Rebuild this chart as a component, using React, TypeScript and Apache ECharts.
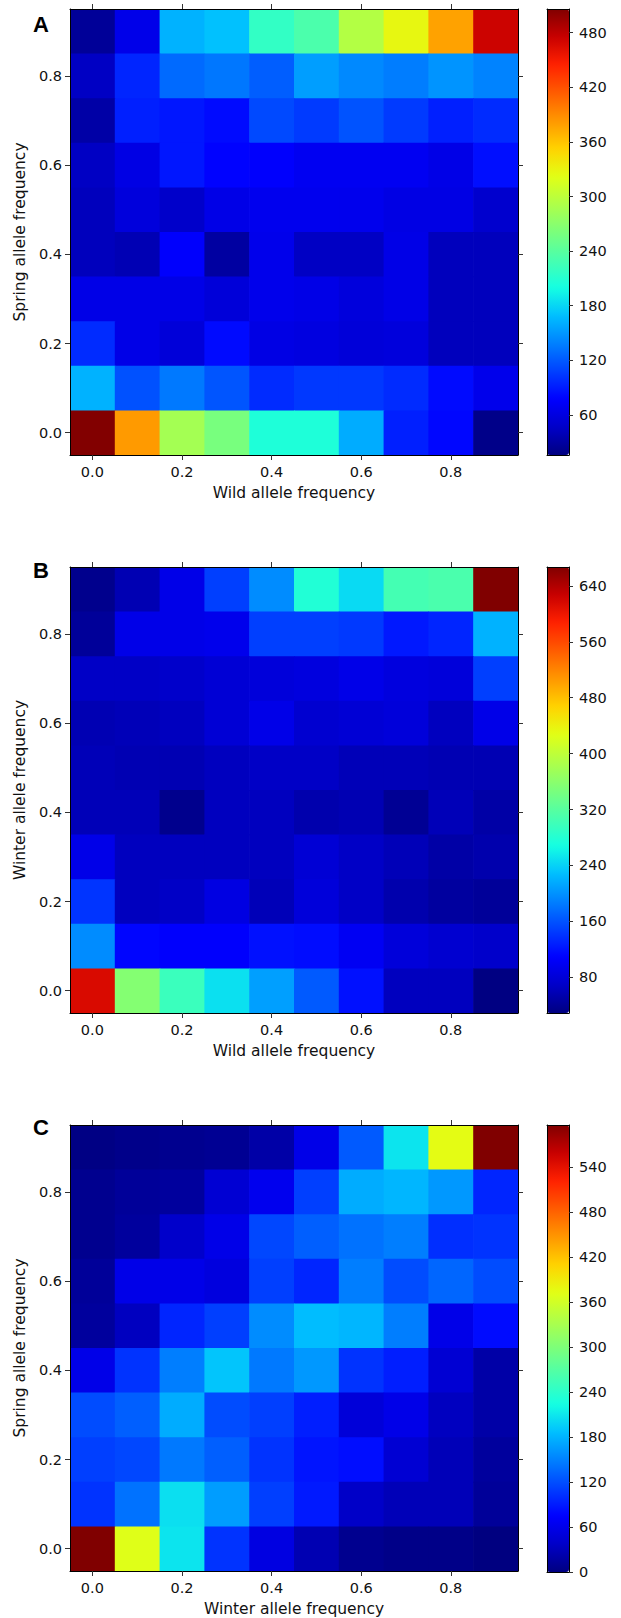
import React, { useEffect, useRef } from "react";
import * as echarts from "echarts";

// Bin centres for both axes
const FREQ = [0.0, 0.1, 0.2, 0.3, 0.4, 0.5, 0.6, 0.7, 0.8, 0.9];
// Axis tick labels
const AXIS_TICKS = [0.0, 0.2, 0.4, 0.6, 0.8];
const AXIS_RANGE = [-0.05, 0.95];
const HALF_BIN = 0.05;

// Panel A: rows listed from top (0.9) to bottom (0.0), columns 0.0 .. 0.9
const A_ROWS = [
  [26, 65, 163, 170, 217, 232, 294, 328, 378, 473],
  [45, 95, 128, 134, 122, 153, 143, 137, 148, 140],
  [32, 92, 88, 82, 112, 105, 117, 105, 92, 98],
  [45, 62, 88, 78, 76, 70, 70, 70, 64, 84],
  [42, 58, 48, 64, 68, 68, 67, 62, 62, 50],
  [42, 38, 76, 30, 66, 45, 45, 64, 42, 42],
  [64, 64, 64, 56, 66, 64, 58, 64, 42, 42],
  [98, 64, 56, 82, 62, 60, 56, 58, 42, 42],
  [163, 116, 135, 118, 98, 104, 104, 98, 82, 66],
  [505, 382, 285, 259, 205, 205, 160, 92, 80, 20],
];
// Panel B
const B_ROWS = [
  [36, 57, 92, 148, 196, 278, 245, 305, 310, 667],
  [43, 92, 92, 95, 148, 148, 144, 124, 132, 220],
  [68, 68, 71, 78, 82, 85, 92, 85, 82, 148],
  [57, 60, 64, 78, 92, 75, 78, 82, 64, 92],
  [60, 57, 57, 64, 68, 68, 60, 60, 57, 57],
  [60, 60, 36, 64, 64, 54, 57, 40, 60, 50],
  [92, 64, 64, 64, 64, 78, 68, 60, 50, 54],
  [141, 64, 68, 88, 60, 82, 68, 54, 46, 43],
  [196, 112, 107, 107, 119, 116, 100, 82, 75, 71],
  [615, 355, 297, 249, 208, 165, 119, 64, 64, 30],
];
// Panel C
const C_ROWS = [
  [2, 5, 8, 10, 20, 59, 127, 208, 375, 596],
  [8, 13, 15, 45, 63, 111, 175, 181, 163, 96],
  [8, 15, 39, 59, 116, 130, 141, 148, 101, 104],
  [13, 59, 59, 52, 111, 96, 148, 119, 134, 119],
  [15, 33, 96, 111, 156, 185, 181, 148, 59, 81],
  [59, 104, 148, 190, 145, 163, 104, 92, 45, 20],
  [119, 130, 175, 119, 111, 92, 49, 59, 33, 20],
  [111, 116, 145, 130, 104, 86, 82, 45, 29, 15],
  [104, 141, 205, 166, 111, 89, 37, 29, 29, 13],
  [596, 370, 208, 104, 54, 26, 8, 4, 4, 0],
];

// Colour-bar ranges and tick values
const A_RANGE = [16, 506];
const B_RANGE = [29, 667];
const C_RANGE = [0, 596];
const A_TICKS = [60, 120, 180, 240, 300, 360, 420, 480];
const B_TICKS = [80, 160, 240, 320, 400, 480, 560, 640];
const C_TICKS = [0, 60, 120, 180, 240, 300, 360, 420, 480, 540];

const LETTERS = ["A", "B", "C"];
const X_NAMES = ["Wild allele frequency", "Wild allele frequency", "Winter allele frequency"];
const Y_NAMES = ["Spring allele frequency", "Winter allele frequency", "Spring allele frequency"];

// matplotlib "jet" sampled at 17 equal steps
const JET = [
  "#000080", "#0000c8", "#0000ff", "#0040ff", "#0080ff", "#00bfff", "#15ffe2", "#48ffaf",
  "#7bff7b", "#afff48", "#e2ff15", "#ffd200", "#ff9700", "#ff5c00", "#ff2100", "#c80000", "#800000",
];

function toCells(rows: number[][]) {
  const out: number[][] = [];
  rows.forEach((row, r) => {
    const yi = rows.length - 1 - r;
    row.forEach((v, c) => out.push([FREQ[c], FREQ[yi], v]));
  });
  return out;
}

const FONT = "DejaVu Sans";
const TXT = "#111";
const TICK_COLOR = "#333";

export default function App() {
  const ref = useRef<HTMLDivElement>(null);
  useEffect(() => {
    if (!ref.current) return;
    const chart = echarts.init(ref.current, undefined, { renderer: "svg" });

    const panels = [
      { rows: A_ROWS, range: A_RANGE, ticks: A_TICKS, top: 9, h: 446, letterTop: 13 },
      { rows: B_ROWS, range: B_RANGE, ticks: B_TICKS, top: 567, h: 446, letterTop: 559 },
      { rows: C_ROWS, range: C_RANGE, ticks: C_TICKS, top: 1125, h: 447, letterTop: 1116 },
    ];
    const PL = 70, PW = 448, CL = 547, CW = 22;

    const grid: any[] = [];
    const xAxis: any[] = [];
    const yAxis: any[] = [];
    const series: any[] = [];
    const visualMap: any[] = [];
    const graphic: any[] = [];
    const line = { show: true, onZero: false, lineStyle: { color: "#000", width: 1 } };
    const fmt = (v: number) => v.toFixed(1);
    const freqAxis = (gridIndex: number, position: string, labels: boolean) => ({
      gridIndex, type: "value", position, z: 10,
      min: AXIS_RANGE[0], max: AXIS_RANGE[1],
      axisLine: line,
      axisTick: { show: true, customValues: AXIS_TICKS, length: 5, lineStyle: { color: TICK_COLOR } },
      axisLabel: labels
        ? { show: true, customValues: AXIS_TICKS, formatter: fmt, fontFamily: FONT, fontSize: 14.5, color: TXT }
        : { show: false },
      splitLine: { show: false },
    });
    const frameAxis = (gridIndex: number, position: string, min: number, max: number) => ({
      gridIndex, type: "value", min, max, position, z: 10,
      axisLine: line, axisTick: { show: false }, axisLabel: { show: false }, splitLine: { show: false },
    });

    panels.forEach((p, i) => {
      const g = grid.length;
      grid.push({ left: PL, top: p.top, width: PW, height: p.h });
      grid.push({ left: CL, top: p.top, width: CW, height: p.h });

      const xi = xAxis.length;
      const xb: any = freqAxis(g, "bottom", true);
      xb.axisLabel.margin = 9;
      xb.name = X_NAMES[i];
      xb.nameLocation = "middle";
      xb.nameGap = 30;
      xb.nameTextStyle = { fontFamily: FONT, fontSize: 15.5, color: TXT };
      xAxis.push(xb);
      xAxis.push(freqAxis(g, "top", false));
      xAxis.push(frameAxis(g + 1, "bottom", 0, 1));
      xAxis.push(frameAxis(g + 1, "top", 0, 1));

      const yi = yAxis.length;
      const yl: any = freqAxis(g, "left", true);
      yl.axisLabel.margin = 8;
      yl.name = Y_NAMES[i];
      yl.nameLocation = "middle";
      yl.nameGap = 38;
      yl.nameTextStyle = { fontFamily: FONT, fontSize: 15.5, color: TXT };
      yAxis.push(yl);
      yAxis.push(freqAxis(g, "right", false));
      yAxis.push(frameAxis(g + 1, "left", p.range[0], p.range[1]));
      yAxis.push({
        gridIndex: g + 1, type: "value", min: p.range[0], max: p.range[1], position: "right", z: 10,
        axisLine: line,
        axisTick: { show: true, customValues: p.ticks, length: 4, lineStyle: { color: TICK_COLOR } },
        axisLabel: { show: true, customValues: p.ticks, margin: 10, fontFamily: FONT, fontSize: 14.5, color: TXT },
        splitLine: { show: false },
      });

      const si = series.length;
      series.push({
        type: "custom", xAxisIndex: xi, yAxisIndex: yi, data: toCells(p.rows), clip: true,
        encode: { x: 0, y: 1 },
        renderItem: (_params: any, api: any) => {
          const x = api.value(0);
          const y = api.value(1);
          const p0 = api.coord([x - HALF_BIN, y + HALF_BIN]);
          const p1 = api.coord([x + HALF_BIN, y - HALF_BIN]);
          return {
            type: "rect",
            shape: { x: p0[0], y: p0[1], width: p1[0] - p0[0] + 0.7, height: p1[1] - p0[1] + 0.7 },
            style: { fill: api.visual("color") },
          };
        },
      });
      visualMap.push({
        type: "continuous", seriesIndex: si, dimension: 2, min: p.range[0], max: p.range[1],
        inRange: { color: JET }, calculable: false, hoverLink: false,
        itemWidth: CW, itemHeight: p.h, left: CL, top: p.top, padding: 0,
        text: null, showLabel: false, orient: "vertical",
      });
      graphic.push({
        type: "text", left: 33, top: p.letterTop,
        style: { text: LETTERS[i], font: 'bold 22px "Liberation Sans"', fill: "#000" },
      });
    });

    chart.setOption({
      animation: false,
      backgroundColor: "#fff",
      grid, xAxis, yAxis, series, visualMap, graphic,
    });
    return () => chart.dispose();
  }, []);

  return (
    <div
      ref={ref}
      style={{ position: "absolute", left: 0, top: 0, width: 621, height: 1618 }}
    />
  );
}
